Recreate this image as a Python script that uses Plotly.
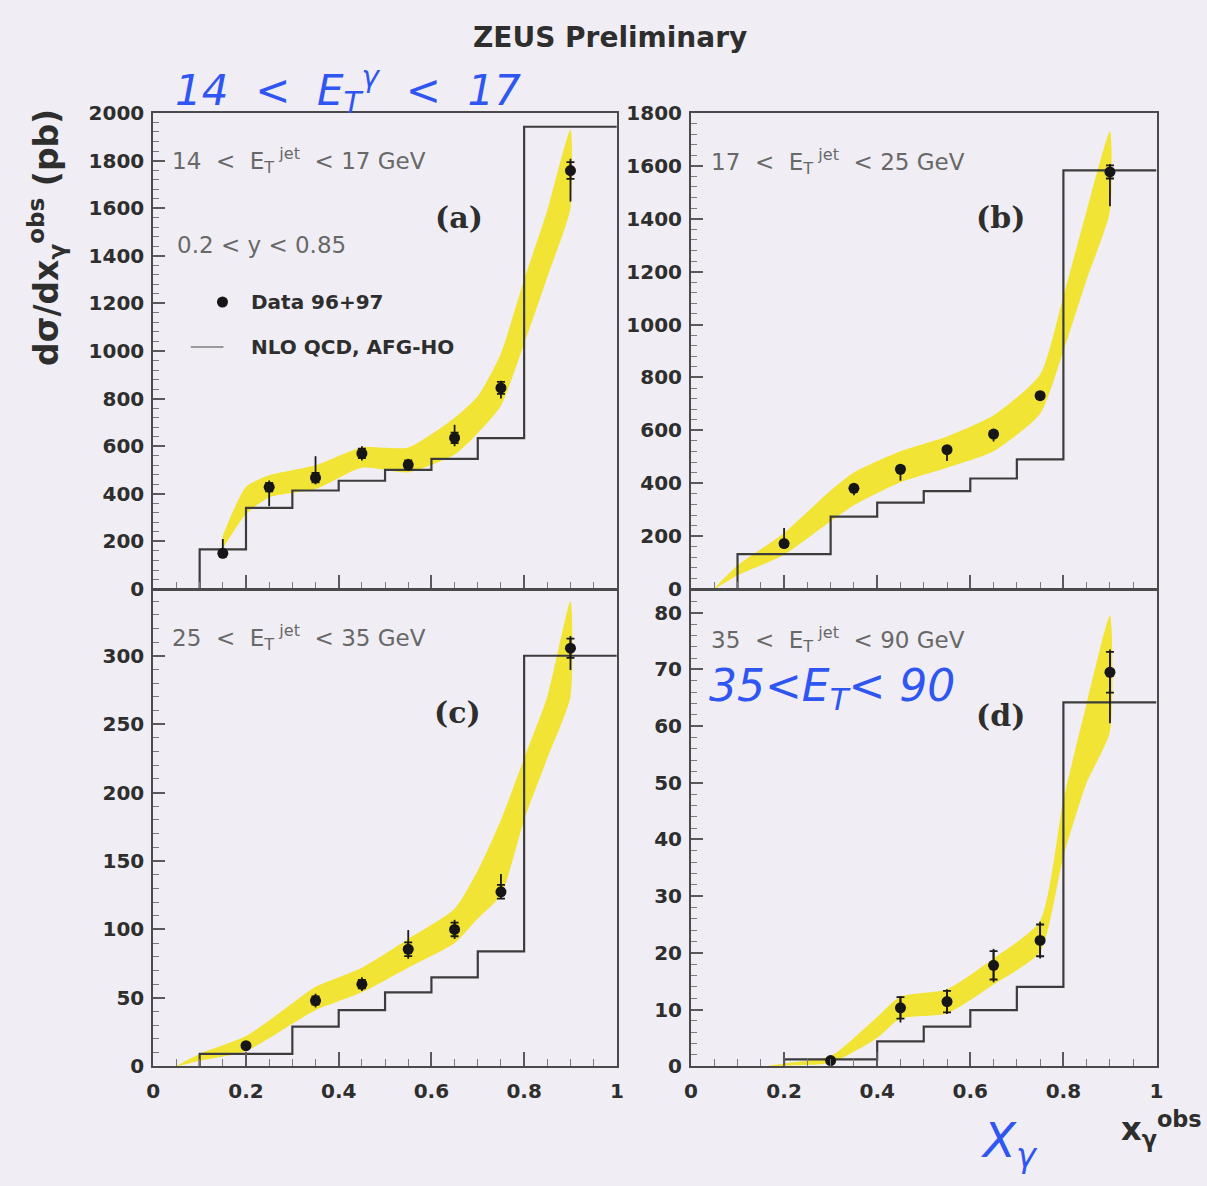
import plotly.graph_objects as go

W, H = 1207, 1186
NB = "\u00a0"

# ---------------- panel (a): 14 < Et(jet) < 17 GeV ----------------
a_x = [0.15, 0.25, 0.35, 0.45, 0.55, 0.65, 0.75, 0.9]
a_y = [150, 428, 468, 570, 522, 635, 845, 1758]
a_up = [60, 28, 90, 30, 25, 55, 30, 50]
a_dn = [20, 80, 28, 30, 25, 35, 45, 130]
a_stat = [12, 18, 20, 20, 18, 22, 25, 35]
a_edges = [0.1, 0.2, 0.3, 0.4, 0.5, 0.6, 0.7, 0.8, 1.0]
a_nlo = [167, 341, 414, 455, 501, 547, 634, 1942]
a_bx = [0.15, 0.2, 0.25, 0.35, 0.45, 0.55, 0.65, 0.7, 0.75, 0.8, 0.85, 0.9]
a_bhi = [225, 430, 478, 520, 595, 595, 720, 810, 990, 1300, 1590, 1930]
a_blo = [170, 315, 385, 420, 510, 490, 565, 655, 770, 1030, 1310, 1600]

# ---------------- panel (b): 17 < Et(jet) < 25 GeV ----------------
b_x = [0.2, 0.35, 0.45, 0.55, 0.65, 0.75, 0.9]
b_y = [172, 381, 453, 527, 586, 731, 1577]
b_up = [59, 12, 12, 12, 12, 14, 30]
b_dn = [12, 26, 43, 43, 28, 16, 130]
b_stat = [10, 10, 10, 10, 10, 12, 25]
b_edges = [0.1, 0.3, 0.4, 0.5, 0.6, 0.7, 0.8, 1.0]
b_nlo = [132, 274, 327, 370, 418, 490, 1583]
b_bx = [0.05, 0.1, 0.2, 0.3, 0.35, 0.45, 0.55, 0.65, 0.75, 0.8, 0.85, 0.9]
b_bhi = [0, 89, 212, 373, 441, 521, 577, 657, 811, 1107, 1430, 1731]
b_blo = [0, 52, 130, 256, 317, 404, 459, 521, 663, 900, 1170, 1428]

# ---------------- panel (c): 25 < Et(jet) < 35 GeV ----------------
c_x = [0.2, 0.35, 0.45, 0.55, 0.65, 0.75, 0.9]
c_y = [15, 48, 60, 85.5, 100, 127.5, 305.5]
c_up = [2, 5, 5, 14, 7, 13, 9]
c_dn = [2, 5, 5, 7, 7, 5, 16]
c_stat = [1.5, 3, 3, 5, 5, 5, 7]
c_edges = [0.1, 0.3, 0.4, 0.5, 0.6, 0.7, 0.8, 1.0]
c_nlo = [9, 29, 41, 54, 65, 84, 300]
c_bx = [0.05, 0.1, 0.2, 0.3, 0.35, 0.45, 0.55, 0.65, 0.7, 0.75, 0.8, 0.85, 0.9]
c_bhi = [0, 9, 22, 46, 58, 72, 93, 115, 143, 180, 225, 270, 340]
c_blo = [0, 4, 11, 31, 41, 54, 72, 90, 108, 125, 180, 225, 270]

# ---------------- panel (d): 35 < Et(jet) < 90 GeV ----------------
d_x = [0.3, 0.45, 0.55, 0.65, 0.75, 0.9]
d_y = [1.0, 10.3, 11.4, 17.8, 22.2, 69.5]
d_up = [0.4, 2.1, 2.2, 2.9, 3.3, 4.0]
d_dn = [0.4, 2.6, 2.2, 3.0, 3.2, 9.0]
d_stat = [0.3, 1.9, 1.9, 2.5, 2.8, 3.6]
d_edges = [0.2, 0.4, 0.5, 0.6, 0.7, 0.8, 1.0]
d_nlo = [1.2, 4.4, 7.0, 9.9, 14.0, 64.2]
d_bx = [0.16, 0.2, 0.3, 0.4, 0.45, 0.55, 0.65, 0.75, 0.8, 0.85, 0.9]
d_bhi = [0, 0.5, 1.8, 8.7, 12.3, 13.6, 19.0, 25.6, 47, 64, 79.5]
d_blo = [0, 0.1, 0.6, 5.0, 8.4, 9.3, 14.4, 20.2, 37, 50, 59]

panels = [
    dict(x=a_x, y=a_y, up=a_up, dn=a_dn, stat=a_stat, edges=a_edges, nlo=a_nlo,
         bx=a_bx, bhi=a_bhi, blo=a_blo, yrange=[0, 2000], dtick=200, minor=40),
    dict(x=b_x, y=b_y, up=b_up, dn=b_dn, stat=b_stat, edges=b_edges, nlo=b_nlo,
         bx=b_bx, bhi=b_bhi, blo=b_blo, yrange=[0, 1800], dtick=200, minor=40),
    dict(x=c_x, y=c_y, up=c_up, dn=c_dn, stat=c_stat, edges=c_edges, nlo=c_nlo,
         bx=c_bx, bhi=c_bhi, blo=c_blo, yrange=[0, 348], dtick=50, minor=10),
    dict(x=d_x, y=d_y, up=d_up, dn=d_dn, stat=d_stat, edges=d_edges, nlo=d_nlo,
         bx=d_bx, bhi=d_bhi, blo=d_blo, yrange=[0, 84], dtick=10, minor=2),
]

# frame geometry in pixels (left, right, top, bottom)
frames = [(148, 617, 103, 589), (692, 1163, 103, 589),
          (148, 617, 590, 1076), (692, 1163, 590, 1076)]

BG = "#f0eef4"
YELLOW = "#f1e434"
FRAME = "#4a4a4a"
HIST = "#3c3c3c"
TXT = "#2e2e2e"
GREY = "#686868"
BLUE = "#2f55f2"

fig = go.Figure()
layout = {}

for i, (p, fr) in enumerate(zip(panels, frames), start=1):
    xa = "x" if i == 1 else f"x{i}"
    ya = "y" if i == 1 else f"y{i}"

    # NLO uncertainty band
    fig.add_trace(go.Scatter(
        x=p["bx"] + p["bx"][::-1], y=p["bhi"] + p["blo"][::-1],
        fill="toself", fillcolor=YELLOW, mode="lines",
        line=dict(width=0, shape="spline", smoothing=0.6),
        xaxis=xa, yaxis=ya, showlegend=False, hoverinfo="skip"))

    # NLO histogram
    e = p["edges"]
    hx = [e[0]] + e
    hy = [0] + p["nlo"] + [p["nlo"][-1]]
    fig.add_trace(go.Scatter(
        x=hx, y=hy, mode="lines", line=dict(color=HIST, width=2.2, shape="hv"),
        xaxis=xa, yaxis=ya, showlegend=False, hoverinfo="skip"))

    # statistical errors with small caps
    fig.add_trace(go.Scatter(
        x=p["x"], y=p["y"], mode="markers",
        marker=dict(size=1, color="rgba(0,0,0,0)"),
        error_y=dict(type="data", array=p["stat"], symmetric=True,
                     color="#1a1a1a", thickness=1.8, width=4),
        xaxis=xa, yaxis=ya, showlegend=False, hoverinfo="skip"))

    # data points with total errors
    fig.add_trace(go.Scatter(
        x=p["x"], y=p["y"], mode="markers",
        marker=dict(size=11, color="#161616"),
        error_y=dict(type="data", symmetric=False, array=p["up"],
                     arrayminus=p["dn"], color="#1a1a1a", thickness=1.8, width=0),
        xaxis=xa, yaxis=ya, showlegend=False))

    l, r, t, b = fr
    tickfont = dict(family="DejaVu Sans", size=20, color=TXT, weight="bold")
    layout["xaxis" if i == 1 else f"xaxis{i}"] = dict(
        domain=[l / W, r / W], anchor=ya, range=[0, 1],
        showline=True, mirror=True, linecolor=FRAME, linewidth=2,
        ticks="inside", ticklen=14, tickwidth=1.5, tickcolor="#5a5a5a",
        tick0=0, dtick=0.2,
        minor=dict(ticks="inside", ticklen=7, dtick=0.05, tickcolor="#7a7a7a", tickwidth=1),
        showgrid=False, zeroline=False, showticklabels=i >= 3,
        tickfont=tickfont, ticklabelstandoff=6)
    layout["yaxis" if i == 1 else f"yaxis{i}"] = dict(
        domain=[1 - b / H, 1 - t / H], anchor=xa, range=p["yrange"],
        showline=True, mirror=True, linecolor=FRAME, linewidth=2,
        ticks="inside", ticklen=12, tickwidth=1.5, tickcolor="#5a5a5a",
        tick0=0, dtick=p["dtick"],
        minor=dict(ticks="inside", ticklen=6, dtick=p["minor"], tickcolor="#7a7a7a", tickwidth=1),
        showgrid=False, zeroline=False, tickfont=tickfont, ticklabelstandoff=3)


def px(x):
    return x / W


def py(y):
    return 1 - y / H


ann = []


def text(t, x, y, size, color=TXT, family="DejaVu Sans", weight="normal",
         style="normal", xanchor="left", angle=0):
    ann.append(dict(text=t, x=px(x), y=py(y), xref="paper", yref="paper",
                    xanchor=xanchor, yanchor="middle", showarrow=False,
                    textangle=angle,
                    font=dict(family=family, size=size, color=color,
                              weight=weight, style=style)))


# titles
text("ZEUS Preliminary", 610, 26, 28, weight="bold", xanchor="center")
text("d\u03c3/dx<sub>\u03b3</sub><sup>obs</sup>" + NB + "(pb)", 40, 230, 33,
     weight="bold", xanchor="center", angle=-90)
text("x<sub>\u03b3</sub><sup>obs</sup>", 1168, 1140, 32, weight="bold", xanchor="center")

# handwritten notes
text("14" + NB + NB + "&lt;" + NB + NB + "E<sub>T</sub><sup>\u03b3</sup>" + NB + NB
     + "&lt;" + NB + NB + "17", 168, 80, 42, color=BLUE, style="italic")
text("35&lt;E<sub>T</sub>&lt;" + NB + "90", 708, 690, 44, color=BLUE, style="italic")
text("X<sub>\u03b3</sub>", 1014, 1155, 48, color=BLUE, style="italic", xanchor="center")


# panel descriptions
def et_label(lo, hi):
    return (f"{lo}{NB}{NB}&lt;{NB}{NB}E<sub>T</sub><sup>{NB}jet</sup>{NB}{NB}&lt;"
            f"{NB}{hi}{NB}GeV")


text(et_label(14, 17), 165, 152, 23, color=GREY)
text(et_label(17, 25), 710, 153, 23, color=GREY)
text(et_label(25, 35), 165, 638, 23, color=GREY)
text(et_label(35, 90), 710, 640, 23, color=GREY)
text("0.2" + NB + "&lt;" + NB + "y" + NB + "&lt;" + NB + "0.85", 170, 238, 23, color=GREY)

# legend
text("Data 96+97", 245, 296, 20, weight="bold")
text("NLO QCD, AFG-HO", 245, 342, 20, weight="bold")

# panel letters
for lab, x, y in [("(a)", 457, 210), ("(b)", 1005, 210), ("(c)", 456, 715), ("(d)", 1005, 718)]:
    text(lab, x, y, 30, family="DejaVu Serif", weight="bold", xanchor="center")

shapes = [
    dict(type="circle", xref="paper", yref="paper", xsizemode="pixel", ysizemode="pixel",
         xanchor=px(218), yanchor=py(296), x0=-5.5, x1=5.5, y0=-5.5, y1=5.5,
         fillcolor="#161616", line=dict(width=0)),
    dict(type="line", xref="paper", yref="paper", x0=px(186), x1=px(219),
         y0=py(342), y1=py(342), line=dict(color="#9a9a9a", width=2)),
]

fig.update_layout(
    width=W, height=H, margin=dict(l=0, r=0, t=0, b=0),
    paper_bgcolor=BG, plot_bgcolor=BG, showlegend=False,
    annotations=ann, shapes=shapes, **layout)

fig.write_html("out.html")
